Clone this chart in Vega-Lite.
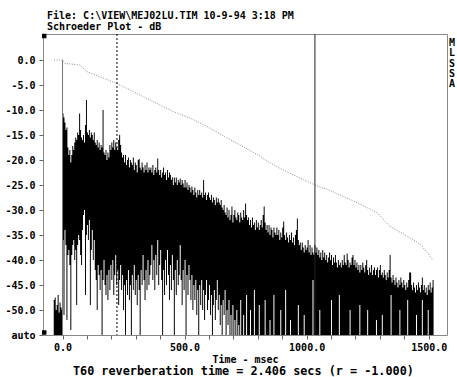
{
"$schema": "https://vega.github.io/schema/vega-lite/v6.json",
"width": 404, "height": 301,
"autosize": "none",
"padding": {"left": 43, "top": 34, "right": 10, "bottom": 42},
"background": "white",
"config": {"view": {"stroke": "#888", "strokeWidth": 1}, "font": "DejaVu Sans Mono",
 "axis": {"grid": false, "domain": false, "tickSize": 4, "tickColor": "#666", "labelFont": "DejaVu Sans Mono", "labelFontSize": 10, "labelFontWeight": "bold", "labelColor": "black", "labelFlush": false, "titleFont": "DejaVu Sans Mono", "titleFontSize": 10, "titleFontWeight": "bold", "titleColor": "black"},
 "axisX": {"labelPadding": 3, "titlePadding": 2}, "axisY": {"labelPadding": 4}},
"title": {"text": "File: C:\\VIEW\\MEJ02LU.TIM 10-9-94 3:18 PM", "subtitle": "Schroeder Plot - dB", "anchor": "start", "frame": "group", "font": "DejaVu Sans Mono", "fontSize": 10, "fontWeight": "bold", "color": "black", "subtitleFont": "DejaVu Sans Mono", "subtitleFontSize": 10, "subtitleFontWeight": "bold", "subtitleColor": "black", "subtitlePadding": 1, "offset": 2, "dx": 4},
"datasets": {
"band": [
{"t":-36,"h":-48,"l":-55},{"t":-32,"h":-47.5,"l":-55},{"t":-28,"h":-50,"l":-55},{"t":-24,"h":-49,"l":-55},{"t":-20,"h":-47,"l":-55},{"t":-16,"h":-50.5,"l":-55},{"t":-12,"h":-48.5,"l":-55},{"t":-8,"h":-49.5,"l":-55},{"t":-4,"h":-50,"l":-55},
{"t":0,"h":-10.7,"l":-36},{"t":4,"h":-11.5,"l":-51},{"t":8,"h":-12.5,"l":-34},{"t":12,"h":-14,"l":-37},{"t":16,"h":-13.5,"l":-52},{"t":20,"h":-17.5,"l":-39},{"t":24,"h":-19,"l":-38},{"t":28,"h":-18,"l":-41},{"t":32,"h":-20.5,"l":-54},{"t":36,"h":-19,"l":-39},
{"t":40,"h":-17.2,"l":-37},{"t":44,"h":-18,"l":-36},{"t":48,"h":-16.5,"l":-40},{"t":52,"h":-15.5,"l":-38},{"t":56,"h":-16,"l":-49},{"t":60,"h":-14.5,"l":-37},{"t":64,"h":-15,"l":-35},{"t":68,"h":-10.7,"l":-36},{"t":72,"h":-14,"l":-39},{"t":76,"h":-15.5,"l":-41},
{"t":80,"h":-16,"l":-34},{"t":84,"h":-15,"l":-31},{"t":88,"h":-16.5,"l":-30},{"t":92,"h":-13,"l":-47},{"t":96,"h":-8,"l":-35},{"t":100,"h":-14.5,"l":-33},{"t":104,"h":-15,"l":-36},{"t":108,"h":-14,"l":-32},{"t":112,"h":-15.5,"l":-49},{"t":116,"h":-14.5,"l":-38},
{"t":120,"h":-15,"l":-34},{"t":124,"h":-16,"l":-40},{"t":128,"h":-14.5,"l":-36},{"t":132,"h":-16.5,"l":-42},{"t":136,"h":-17,"l":-44},{"t":140,"h":-16,"l":-50},{"t":144,"h":-17.5,"l":-41},{"t":148,"h":-16.5,"l":-43},{"t":152,"h":-18,"l":-46},{"t":156,"h":-17,"l":-42},
{"t":160,"h":-17.5,"l":-55},{"t":164,"h":-10,"l":-44},{"t":168,"h":-18.5,"l":-40},{"t":172,"h":-19,"l":-45},{"t":176,"h":-18,"l":-47},{"t":180,"h":-20,"l":-43},{"t":184,"h":-18.5,"l":-48},{"t":188,"h":-19.5,"l":-42},{"t":192,"h":-17,"l":-46},{"t":196,"h":-18,"l":-41},
{"t":200,"h":-16.5,"l":-44},{"t":204,"h":-17.5,"l":-40},{"t":208,"h":-16,"l":-47},{"t":212,"h":-18,"l":-43},{"t":216,"h":-16.5,"l":-39},{"t":220,"h":-17.5,"l":-45},{"t":224,"h":-18,"l":-42},{"t":228,"h":-16,"l":-49},{"t":232,"h":-15,"l":-44},{"t":236,"h":-17,"l":-41},
{"t":240,"h":-18.5,"l":-46},{"t":244,"h":-19.5,"l":-43},{"t":248,"h":-19,"l":-50},{"t":252,"h":-20.5,"l":-45},{"t":256,"h":-19,"l":-55},{"t":260,"h":-21,"l":-44},{"t":264,"h":-20,"l":-47},{"t":268,"h":-19.5,"l":-42},{"t":272,"h":-21.5,"l":-48},{"t":276,"h":-20,"l":-45},
{"t":280,"h":-20.5,"l":-55},{"t":284,"h":-21,"l":-43},{"t":288,"h":-19.5,"l":-46},{"t":292,"h":-22,"l":-41},{"t":296,"h":-20.5,"l":-47},{"t":300,"h":-21,"l":-44},{"t":304,"h":-22.5,"l":-49},{"t":308,"h":-20,"l":-43},{"t":312,"h":-19.8,"l":-46},{"t":316,"h":-21.5,"l":-55},
{"t":320,"h":-22,"l":-42},{"t":324,"h":-20.5,"l":-45},{"t":328,"h":-21.5,"l":-39},{"t":332,"h":-22.5,"l":-44},{"t":336,"h":-21,"l":-48},{"t":340,"h":-22,"l":-42},{"t":344,"h":-20.5,"l":-46},{"t":348,"h":-22.5,"l":-40},{"t":352,"h":-21.5,"l":-45},{"t":356,"h":-22,"l":-43},
{"t":360,"h":-21.5,"l":-41},{"t":364,"h":-22.5,"l":-37},{"t":368,"h":-21,"l":-44},{"t":372,"h":-23,"l":-40},{"t":376,"h":-22,"l":-46},{"t":380,"h":-21.5,"l":-39},{"t":384,"h":-22.5,"l":-43},{"t":388,"h":-19.7,"l":-36},{"t":392,"h":-22,"l":-45},{"t":396,"h":-23,"l":-41},
{"t":400,"h":-22,"l":-38},{"t":404,"h":-23.5,"l":-44},{"t":408,"h":-22.5,"l":-55},{"t":412,"h":-21.5,"l":-42},{"t":416,"h":-23,"l":-47},{"t":420,"h":-22.5,"l":-40},{"t":424,"h":-24,"l":-45},{"t":428,"h":-22,"l":-38},{"t":432,"h":-23.5,"l":-43},{"t":436,"h":-22.5,"l":-48},
{"t":440,"h":-23,"l":-41},{"t":444,"h":-24,"l":-46},{"t":448,"h":-23.5,"l":-39},{"t":452,"h":-25,"l":-44},{"t":456,"h":-23.5,"l":-55},{"t":460,"h":-24.5,"l":-42},{"t":464,"h":-23.5,"l":-47},{"t":468,"h":-25,"l":-40},{"t":472,"h":-24,"l":-45},{"t":476,"h":-24.5,"l":-43},
{"t":480,"h":-23.7,"l":-37},{"t":484,"h":-25,"l":-44},{"t":488,"h":-24,"l":-49},{"t":492,"h":-24.7,"l":-42},{"t":496,"h":-25.5,"l":-46},{"t":500,"h":-24,"l":-40},{"t":504,"h":-25.5,"l":-55},{"t":508,"h":-24.5,"l":-43},{"t":512,"h":-26,"l":-47},{"t":516,"h":-25,"l":-41},
{"t":520,"h":-25.5,"l":-44},{"t":524,"h":-26.5,"l":-48},{"t":528,"h":-25.3,"l":-43},{"t":532,"h":-26,"l":-50},{"t":536,"h":-27,"l":-45},{"t":540,"h":-25.5,"l":-48},{"t":544,"h":-26.5,"l":-44},{"t":548,"h":-27.5,"l":-51},{"t":552,"h":-26,"l":-46},{"t":556,"h":-27,"l":-55},
{"t":560,"h":-26,"l":-45},{"t":564,"h":-27,"l":-49},{"t":568,"h":-26.5,"l":-44},{"t":572,"h":-27.5,"l":-50},{"t":576,"h":-24,"l":-46},{"t":580,"h":-27,"l":-52},{"t":584,"h":-26.5,"l":-47},{"t":588,"h":-28,"l":-44},{"t":592,"h":-27,"l":-50},{"t":596,"h":-26.5,"l":-48},
{"t":600,"h":-27.5,"l":-45},{"t":604,"h":-28,"l":-51},{"t":608,"h":-27,"l":-47},{"t":612,"h":-28.5,"l":-55},{"t":616,"h":-27.5,"l":-49},{"t":620,"h":-28,"l":-46},{"t":624,"h":-29,"l":-52},{"t":628,"h":-27.5,"l":-48},{"t":632,"h":-28.5,"l":-44},{"t":636,"h":-27.7,"l":-50},
{"t":640,"h":-28.5,"l":-47},{"t":644,"h":-29,"l":-53},{"t":648,"h":-28,"l":-49},{"t":652,"h":-29.5,"l":-55},{"t":656,"h":-30,"l":-48},{"t":660,"h":-29,"l":-51},{"t":664,"h":-30.5,"l":-46},{"t":668,"h":-31,"l":-55},{"t":672,"h":-29.5,"l":-50},{"t":676,"h":-31.5,"l":-53},
{"t":680,"h":-30,"l":-48},{"t":684,"h":-32,"l":-55},{"t":688,"h":-31,"l":-51},{"t":692,"h":-29.3,"l":-55},{"t":696,"h":-32.5,"l":-49},{"t":700,"h":-31,"l":-55},{"t":704,"h":-30,"l":-52},{"t":708,"h":-31.5,"l":-55},{"t":712,"h":-32,"l":-50},{"t":716,"h":-30.5,"l":-55},
{"t":720,"h":-31,"l":-53},{"t":724,"h":-32.5,"l":-55},{"t":728,"h":-30.5,"l":-48},{"t":732,"h":-31.5,"l":-55},{"t":736,"h":-32,"l":-55},{"t":740,"h":-30,"l":-51},{"t":744,"h":-31.5,"l":-55},{"t":748,"h":-28.7,"l":-55},{"t":752,"h":-31,"l":-47},{"t":756,"h":-32,"l":-55},
{"t":760,"h":-31.5,"l":-55},{"t":764,"h":-33,"l":-55},{"t":768,"h":-32,"l":-50},{"t":772,"h":-33.5,"l":-55},{"t":776,"h":-31.5,"l":-55},{"t":780,"h":-33,"l":-55},{"t":784,"h":-32.5,"l":-46},{"t":788,"h":-34,"l":-55},{"t":792,"h":-32,"l":-55},{"t":796,"h":-33.5,"l":-55},
{"t":800,"h":-32.5,"l":-55},{"t":804,"h":-34,"l":-49},{"t":808,"h":-33,"l":-55},{"t":812,"h":-32,"l":-55},{"t":816,"h":-33.5,"l":-55},{"t":820,"h":-31,"l":-55},{"t":824,"h":-29.3,"l":-55},{"t":828,"h":-32.5,"l":-48},{"t":832,"h":-34,"l":-55},{"t":836,"h":-33,"l":-55},
{"t":840,"h":-34.5,"l":-55},{"t":844,"h":-33,"l":-55},{"t":848,"h":-35,"l":-52},{"t":852,"h":-33.5,"l":-55},{"t":856,"h":-34,"l":-55},{"t":860,"h":-35.5,"l":-55},{"t":864,"h":-33.5,"l":-47},{"t":868,"h":-34.5,"l":-55},{"t":872,"h":-35,"l":-55},{"t":876,"h":-33.5,"l":-55},
{"t":880,"h":-35,"l":-55},{"t":884,"h":-34,"l":-55},{"t":888,"h":-36,"l":-55},{"t":892,"h":-34.5,"l":-50},{"t":896,"h":-35.5,"l":-55},{"t":900,"h":-33.5,"l":-55},{"t":904,"h":-32.3,"l":-55},{"t":908,"h":-35,"l":-55},{"t":912,"h":-36,"l":-46},{"t":916,"h":-34.5,"l":-55},
{"t":920,"h":-35.5,"l":-55},{"t":924,"h":-36.5,"l":-55},{"t":928,"h":-35,"l":-55},{"t":932,"h":-36,"l":-52},{"t":936,"h":-34.5,"l":-55},{"t":940,"h":-36.5,"l":-55},{"t":944,"h":-35.5,"l":-55},{"t":948,"h":-37,"l":-55},{"t":952,"h":-35,"l":-55},{"t":956,"h":-34,"l":-55},
{"t":960,"h":-31.7,"l":-55},{"t":964,"h":-36,"l":-49},{"t":968,"h":-37,"l":-55},{"t":972,"h":-36.5,"l":-55},{"t":976,"h":-38,"l":-55},{"t":980,"h":-36.5,"l":-55},{"t":984,"h":-37.5,"l":-55},{"t":988,"h":-38.5,"l":-51},{"t":992,"h":-37,"l":-55},{"t":996,"h":-38,"l":-55},
{"t":1000,"h":-37.5,"l":-55},{"t":1004,"h":-36,"l":-55},{"t":1008,"h":-38.5,"l":-55},{"t":1012,"h":-37,"l":-55},{"t":1016,"h":-39,"l":-55},{"t":1020,"h":-37.5,"l":-55},{"t":1024,"h":-38.5,"l":-44},{"t":1028,"h":-39,"l":-55},{"t":1032,"h":-37,"l":-55},{"t":1036,"h":-38.5,"l":-55},
{"t":1040,"h":-37.5,"l":-55},{"t":1044,"h":-39,"l":-55},{"t":1048,"h":-38,"l":-55},{"t":1052,"h":-39.5,"l":-50},{"t":1056,"h":-38.5,"l":-55},{"t":1060,"h":-40,"l":-55},{"t":1064,"h":-38,"l":-55},{"t":1068,"h":-39.5,"l":-55},{"t":1072,"h":-38.5,"l":-55},{"t":1076,"h":-40,"l":-55},
{"t":1080,"h":-39,"l":-55},{"t":1084,"h":-40.5,"l":-55},{"t":1088,"h":-39.5,"l":-55},{"t":1092,"h":-38.5,"l":-55},{"t":1096,"h":-40,"l":-55},{"t":1100,"h":-39,"l":-48},{"t":1104,"h":-41,"l":-55},{"t":1108,"h":-39.5,"l":-55},{"t":1112,"h":-40.5,"l":-55},{"t":1116,"h":-39,"l":-55},
{"t":1120,"h":-40.5,"l":-55},{"t":1124,"h":-41.5,"l":-55},{"t":1128,"h":-40,"l":-55},{"t":1132,"h":-41,"l":-47},{"t":1136,"h":-40.5,"l":-55},{"t":1140,"h":-41.5,"l":-55},{"t":1144,"h":-40,"l":-55},{"t":1148,"h":-41,"l":-55},{"t":1152,"h":-39,"l":-55},{"t":1156,"h":-40.5,"l":-55},
{"t":1160,"h":-41,"l":-55},{"t":1164,"h":-38.7,"l":-55},{"t":1168,"h":-40,"l":-55},{"t":1172,"h":-41.5,"l":-55},{"t":1176,"h":-40.5,"l":-50},{"t":1180,"h":-41,"l":-55},{"t":1184,"h":-39.5,"l":-55},{"t":1188,"h":-39,"l":-55},{"t":1192,"h":-41,"l":-55},{"t":1196,"h":-40,"l":-55},
{"t":1200,"h":-41.5,"l":-55},{"t":1204,"h":-40.5,"l":-55},{"t":1208,"h":-42,"l":-55},{"t":1212,"h":-41,"l":-55},{"t":1216,"h":-42.5,"l":-49},{"t":1220,"h":-41,"l":-55},{"t":1224,"h":-42,"l":-55},{"t":1228,"h":-40.5,"l":-55},{"t":1232,"h":-41.5,"l":-55},{"t":1236,"h":-42.5,"l":-55},
{"t":1240,"h":-41,"l":-55},{"t":1244,"h":-40,"l":-55},{"t":1248,"h":-42,"l":-50},{"t":1252,"h":-43,"l":-55},{"t":1256,"h":-41.5,"l":-55},{"t":1260,"h":-42.5,"l":-55},{"t":1264,"h":-41,"l":-55},{"t":1268,"h":-43,"l":-55},{"t":1272,"h":-42,"l":-55},{"t":1276,"h":-41.5,"l":-55},
{"t":1280,"h":-43,"l":-55},{"t":1284,"h":-42,"l":-52},{"t":1288,"h":-41.5,"l":-55},{"t":1292,"h":-43.5,"l":-55},{"t":1296,"h":-42,"l":-55},{"t":1300,"h":-41,"l":-55},{"t":1304,"h":-43,"l":-55},{"t":1308,"h":-42.5,"l":-51},{"t":1312,"h":-43.5,"l":-55},{"t":1316,"h":-42,"l":-55},
{"t":1320,"h":-43,"l":-55},{"t":1324,"h":-44,"l":-55},{"t":1328,"h":-42.5,"l":-55},{"t":1332,"h":-43.5,"l":-55},{"t":1336,"h":-42,"l":-55},{"t":1340,"h":-39,"l":-55},{"t":1344,"h":-43.5,"l":-47},{"t":1348,"h":-44.5,"l":-55},{"t":1352,"h":-43,"l":-55},{"t":1356,"h":-44,"l":-55},
{"t":1360,"h":-45,"l":-55},{"t":1364,"h":-43.5,"l":-55},{"t":1368,"h":-44.5,"l":-55},{"t":1372,"h":-45.5,"l":-55},{"t":1376,"h":-44,"l":-55},{"t":1380,"h":-45,"l":-50},{"t":1384,"h":-43.5,"l":-55},{"t":1388,"h":-44.5,"l":-55},{"t":1392,"h":-45.5,"l":-55},{"t":1396,"h":-44,"l":-55},
{"t":1400,"h":-45,"l":-55},{"t":1404,"h":-46,"l":-55},{"t":1408,"h":-44.5,"l":-55},{"t":1412,"h":-45.5,"l":-48},{"t":1416,"h":-44,"l":-55},{"t":1420,"h":-42.5,"l":-55},{"t":1424,"h":-42.5,"l":-55},{"t":1428,"h":-45,"l":-55},{"t":1432,"h":-46,"l":-55},{"t":1436,"h":-44.5,"l":-55},
{"t":1440,"h":-45.5,"l":-55},{"t":1444,"h":-46.5,"l":-55},{"t":1448,"h":-45,"l":-51},{"t":1452,"h":-46,"l":-55},{"t":1456,"h":-44.5,"l":-55},{"t":1460,"h":-45.5,"l":-55},{"t":1464,"h":-46.5,"l":-55},{"t":1468,"h":-45,"l":-55},{"t":1472,"h":-43.5,"l":-48},{"t":1476,"h":-46,"l":-55},
{"t":1480,"h":-45,"l":-55},{"t":1484,"h":-46.5,"l":-55},{"t":1488,"h":-45.5,"l":-55},{"t":1492,"h":-47,"l":-55},{"t":1496,"h":-45,"l":-50},{"t":1500,"h":-46,"l":-55},{"t":1504,"h":-44.5,"l":-55},{"t":1508,"h":-46.5,"l":-55},{"t":1512,"h":-45.5,"l":-55},{"t":1516,"h":-44,"l":-55},{"t":1520,"h":-45,"l":-55}
],
"sch": [
{"t":-35,"h":0},{"t":2,"h":0},{"t":10,"h":-0.7},{"t":72,"h":-1.0},{"t":99,"h":-2.3},{"t":166,"h":-3.6},{"t":223,"h":-4.7},{"t":289,"h":-6.3},{"t":358,"h":-8.0},{"t":453,"h":-10.3},{"t":522,"h":-11.6},{"t":592,"h":-13.3},{"t":674,"h":-15.6},{"t":739,"h":-17.3},{"t":801,"h":-19.0},{"t":821,"h":-19.7},{"t":891,"h":-21.7},{"t":959,"h":-23.3},{"t":1034,"h":-25.0},{"t":1096,"h":-26.1},{"t":1164,"h":-27.6},{"t":1231,"h":-29.1},{"t":1287,"h":-30.5},{"t":1342,"h":-33.3},{"t":1410,"h":-35.2},{"t":1465,"h":-36.8},{"t":1518,"h":-40}
]
},
"layer": [
{"data": {"name": "band"}, "mark": {"type": "area", "color": "black", "interpolate": "step-after"},
 "encoding": {
  "x": {"field": "t", "type": "quantitative", "scale": {"domain": [-80, 1575], "nice": false, "zero": false},
   "axis": {"values": [0,100,200,300,400,500,600,700,800,900,1000,1100,1200,1300,1400,1500], "labelExpr": "datum.value % 500 == 0 ? format(datum.value, '.1f') : ''", "title": "Time - msec", "labelOverlap": false}},
  "y": {"field": "h", "type": "quantitative", "scale": {"domain": [-55, 5.2], "nice": false, "zero": false},
   "axis": {"values": [-55,-50,-45,-40,-35,-30,-25,-20,-15,-10,-5,0], "labelExpr": "datum.value == -55 ? 'auto' : (datum.value < 0 ? '-' + format(-datum.value, '.1f') : format(datum.value, '.1f'))", "title": null, "labelOverlap": false}},
  "y2": {"field": "l"}}},
{"data": {"values": [{"t": 0, "h": 0, "l": -55}]}, "mark": {"type": "rule", "color": "#777", "strokeWidth": 1},
 "encoding": {
  "x": {"field": "t", "type": "quantitative", "axis": {"values": [0,100,200,300,400,500,600,700,800,900,1000,1100,1200,1300,1400,1500], "labelExpr": "datum.value % 500 == 0 ? format(datum.value, '.1f') : ''", "title": "Time - msec", "labelOverlap": false}},
  "y": {"field": "h", "type": "quantitative", "axis": {"values": [-55,-50,-45,-40,-35,-30,-25,-20,-15,-10,-5,0], "labelExpr": "datum.value == -55 ? 'auto' : (datum.value < 0 ? '-' + format(-datum.value, '.1f') : format(datum.value, '.1f'))", "title": null, "labelOverlap": false}},
  "y2": {"field": "l"}}},
{"data": {"name": "sch"}, "mark": {"type": "line", "color": "#8a8a8a", "strokeWidth": 1, "strokeDash": [1, 1.5]},
 "encoding": {
  "x": {"field": "t", "type": "quantitative", "axis": {"values": [0,100,200,300,400,500,600,700,800,900,1000,1100,1200,1300,1400,1500], "labelExpr": "datum.value % 500 == 0 ? format(datum.value, '.1f') : ''", "title": "Time - msec", "labelOverlap": false}},
  "y": {"field": "h", "type": "quantitative", "axis": {"values": [-55,-50,-45,-40,-35,-30,-25,-20,-15,-10,-5,0], "labelExpr": "datum.value == -55 ? 'auto' : (datum.value < 0 ? '-' + format(-datum.value, '.1f') : format(datum.value, '.1f'))", "title": null, "labelOverlap": false}}}},
{"data": {"values": [{"t": 223}]}, "mark": {"type": "rule", "color": "black", "strokeWidth": 1, "strokeDash": [2, 2]},
 "encoding": {"x": {"field": "t", "type": "quantitative", "axis": {"values": [0,100,200,300,400,500,600,700,800,900,1000,1100,1200,1300,1400,1500], "labelExpr": "datum.value % 500 == 0 ? format(datum.value, '.1f') : ''", "title": "Time - msec", "labelOverlap": false}}}},
{"data": {"values": [{"t": 1034}]}, "mark": {"type": "rule", "color": "#222", "strokeWidth": 1},
 "encoding": {"x": {"field": "t", "type": "quantitative", "axis": {"values": [0,100,200,300,400,500,600,700,800,900,1000,1100,1200,1300,1400,1500], "labelExpr": "datum.value % 500 == 0 ? format(datum.value, '.1f') : ''", "title": "Time - msec", "labelOverlap": false}}}},
{"data": {"values": [{"t": -75, "h": 4.8}, {"t": -75, "h": -54.5}]}, "mark": {"type": "square", "color": "black", "filled": true, "size": 20, "opacity": 1},
 "encoding": {
  "x": {"field": "t", "type": "quantitative", "axis": {"values": [0,100,200,300,400,500,600,700,800,900,1000,1100,1200,1300,1400,1500], "labelExpr": "datum.value % 500 == 0 ? format(datum.value, '.1f') : ''", "title": "Time - msec", "labelOverlap": false}},
  "y": {"field": "h", "type": "quantitative", "axis": {"values": [-55,-50,-45,-40,-35,-30,-25,-20,-15,-10,-5,0], "labelExpr": "datum.value == -55 ? 'auto' : (datum.value < 0 ? '-' + format(-datum.value, '.1f') : format(datum.value, '.1f'))", "title": null, "labelOverlap": false}}}},
{"data": {"values": [{"label": "M|L|S|S|A"}]}, "mark": {"type": "text", "align": "left", "baseline": "top", "dx": 2, "lineHeight": 10.3, "lineBreak": "|", "font": "DejaVu Sans Mono", "fontSize": 10, "fontWeight": "bold", "fill": "black"},
 "encoding": {
  "x": {"datum": 1575, "type": "quantitative", "axis": {"values": [0,100,200,300,400,500,600,700,800,900,1000,1100,1200,1300,1400,1500], "labelExpr": "datum.value % 500 == 0 ? format(datum.value, '.1f') : ''", "title": "Time - msec", "labelOverlap": false}},
  "y": {"datum": 4.4, "type": "quantitative", "axis": {"values": [-55,-50,-45,-40,-35,-30,-25,-20,-15,-10,-5,0], "labelExpr": "datum.value == -55 ? 'auto' : (datum.value < 0 ? '-' + format(-datum.value, '.1f') : format(datum.value, '.1f'))", "title": null, "labelOverlap": false}},
  "text": {"field": "label"}}},
{"data": {"values": [{"label": "T60 reverberation time = 2.406 secs (r = -1.000)"}]}, "mark": {"type": "text", "align": "center", "baseline": "middle", "font": "DejaVu Sans Mono", "fontSize": 11.8, "fontWeight": "bold", "fill": "black"},
 "encoding": {
  "x": {"datum": 741, "type": "quantitative", "axis": {"values": [0,100,200,300,400,500,600,700,800,900,1000,1100,1200,1300,1400,1500], "labelExpr": "datum.value % 500 == 0 ? format(datum.value, '.1f') : ''", "title": "Time - msec", "labelOverlap": false}},
  "y": {"datum": -62.2, "type": "quantitative", "axis": {"values": [-55,-50,-45,-40,-35,-30,-25,-20,-15,-10,-5,0], "labelExpr": "datum.value == -55 ? 'auto' : (datum.value < 0 ? '-' + format(-datum.value, '.1f') : format(datum.value, '.1f'))", "title": null, "labelOverlap": false}},
  "text": {"field": "label"}}}
]
}
